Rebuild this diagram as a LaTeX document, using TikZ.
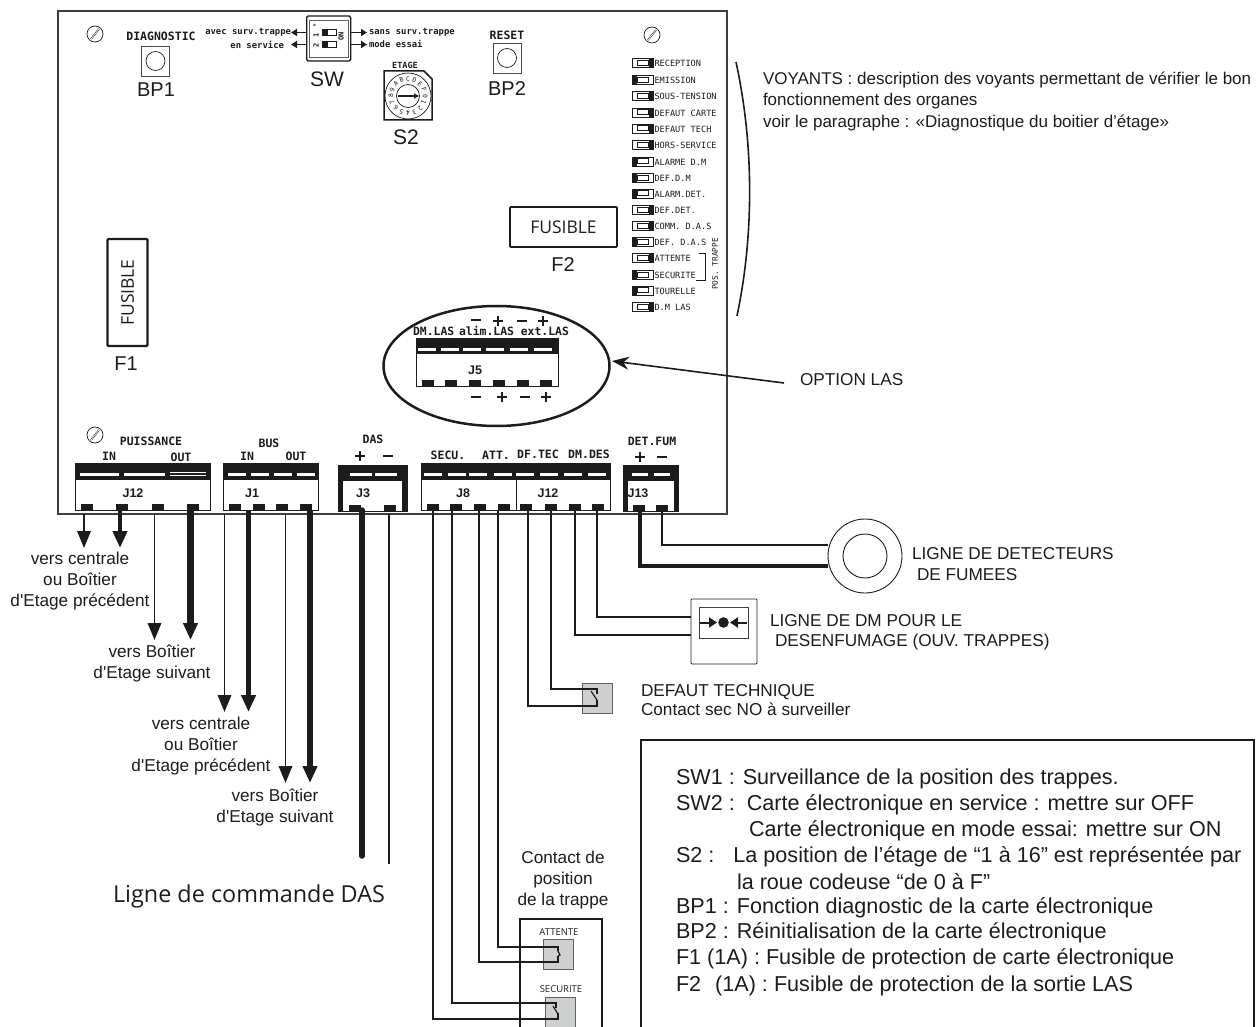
\documentclass[tikz,border=0pt]{standalone}
\usepackage{fontspec}
\setmainfont{Liberation Sans}[Ligatures=TeXOff]
\newfontfamily\dotf{DejaVu Sans Mono}
\newfontfamily\opf{Open Sans}
\usetikzlibrary{arrows.meta,calc}
\definecolor{ink}{HTML}{1C1C1E}
\definecolor{contact}{HTML}{CDD0CF}
\tikzset{
 every node/.style={inner sep=0pt,outer sep=0pt,text=ink},
 thin wire/.style={draw=ink,line width=1.8pt},
 thick wire/.style={draw=ink,line width=5.5pt},
 arrowthin/.style={thin wire,-{Triangle[length=17pt,width=13.5pt]}},
 arrowthick/.style={thick wire,-{Triangle[length=17pt,width=14pt]}},
 dm/.style={font=\dotf\fontsize{11.5}{12}\selectfont\bfseries},
 dms/.style={font=\dotf\fontsize{8.6}{10}\selectfont,anchor=west},
 ar/.style={font=\fontsize{17.2}{21}\selectfont,anchor=west},
 ar2/.style={font=\fontsize{17.2}{21}\selectfont,align=center},
 big/.style={font=\fontsize{20}{23}\selectfont},
 bx/.style={font=\fontsize{21.6}{25}\selectfont,anchor=west},
 jl/.style={font=\bfseries\fontsize{12.5}{14}\selectfont},
 op/.style={font=\opf\fontsize{17.5}{20}\selectfont},
 cont/.style={fill=contact,draw=ink!70,line width=.8pt},
}
\newcommand{\screw}[2]{\draw[ink,line width=.7pt] (#1,#2) circle (8);\draw[ink,line width=1.6pt] (#1-4,#2+5)--(#1+4,#2-5);\draw[white,line width=.6pt] (#1-4,#2+5)--(#1+4,#2-5);}
\newcommand{\led}[3]{%
 \draw[ink,line width=.8pt,fill=white] (632,#1-4.5) rectangle (653,#1+4.5);
 \draw[ink,line width=.7pt] (637,#1-3) rectangle (648,#1+2);
 \ifnum#2=1 \fill[ink] (632,#1-4.5) rectangle (637,#1+4.5);\else \fill[ink] (648.5,#1-4.5) rectangle (653,#1+4.5);\fi
 \node[dms] at (654.5,#1+.5) {#3};}
\newcommand{\slotw}[3]{\fill[white] (#1,#2-1.5) rectangle (#1+#3,#2+1.5);}
\newcommand{\pin}[2]{\fill[ink] (#1-6,#2-6) rectangle (#1+6,#2);}
\newcommand{\plusm}[2]{\fill[ink] (#1-5,#2-1.3) rectangle (#1+5,#2+1.3);\fill[ink] (#1-1.3,#2-5) rectangle (#1+1.3,#2+5);}
\newcommand{\minusm}[2]{\fill[ink] (#1-5,#2-1.3) rectangle (#1+5,#2+1.3);}
\begin{document}
\begin{tikzpicture}[x=1pt,y=-1pt]
\useasboundingbox (0,0) rectangle (1259,1027);
% board
\draw[ink!85,line width=1.3pt] (58,11) -- (727,11) -- (727,514) -- (58,514) -- cycle;
% screws
\screw{95}{34}\screw{652}{35}\screw{95}{435}
% BP1
\node[dm] (diag) at (161,36) {DIAGNOSTIC};
\draw[ink!80,line width=.8pt] (141.7,46.5) rectangle (169.3,76);
\node[circle,draw=ink,line width=.7pt,minimum size=19pt] (bp1c) at (155.5,61) {};
\node[big] (bp1) at (156,90) {BP1};
% SW
\draw[ink,line width=1.4pt,rounded corners=1.5pt] (306.7,16) rectangle (350.7,61);
\draw[ink!70,line width=.6pt] (309.5,20) rectangle (348,57);
\foreach \yy in {32.5,44}{
 \draw[ink,line width=.8pt,fill=white] (322,\yy-3) rectangle (336,\yy+3);
 \fill[ink] (322,\yy-3) rectangle (327.5,\yy+3);}
\node[font=\dotf\fontsize{7}{7}\selectfont\bfseries,rotate=90] at (316,35) {1};
\node[font=\dotf\fontsize{7}{7}\selectfont\bfseries,rotate=90] at (316,45.5) {2};
\node[font=\dotf\fontsize{7}{7}\selectfont\bfseries,rotate=90] at (316,25) {°};
\node[font=\dotf\fontsize{7}{7}\selectfont\bfseries,rotate=90] at (341,36.5) {ON};
\coordinate (swl1) at (306.7,32.5);\coordinate (swl2) at (306.7,44.5);
\coordinate (swr1) at (350.7,32.5);\coordinate (swr2) at (350.7,44.5);
\coordinate (tl1) at (291,32.5);\coordinate (tl2) at (291,44.5);
\coordinate (tr1) at (367,32.5);\coordinate (tr2) at (367,44.5);
\draw[ink,line width=1.8pt,-{Triangle[length=6pt,width=7pt]}] (swl1)--(tl1);
\draw[ink,line width=1.8pt,-{Triangle[length=6pt,width=7pt]}] (swl2)--(tl2);
\draw[ink,line width=1.8pt,-{Triangle[length=6pt,width=7pt]}] (swr1)--(tr1);
\draw[ink,line width=1.8pt,-{Triangle[length=6pt,width=7pt]}] (swr2)--(tr2);
\node[font=\dotf\fontsize{8.9}{10}\selectfont\bfseries,anchor=east] (a1) at (291,32.5) {avec surv.trappe};
\node[font=\dotf\fontsize{8.9}{10}\selectfont\bfseries,anchor=east] (a2) at (284,44.5) {en service};
\node[font=\dotf\fontsize{8.9}{10}\selectfont\bfseries,anchor=west] (a3) at (369,32.5) {sans surv.trappe};
\node[font=\dotf\fontsize{8.9}{10}\selectfont\bfseries,anchor=west] (a4) at (369,43.5) {mode essai};
\node[big,font=\fontsize{21}{23}\selectfont] (sw) at (327,79) {SW};
% S2
\node[font=\dotf\fontsize{8.5}{10}\selectfont\bfseries] (etage) at (405,65.5) {ETAGE};
\draw[ink,line width=1.5pt,fill=white] (384,71)--(424,71)--(432,79)--(432,120)--(384,120)--cycle;
\draw[ink,line width=.7pt,fill=white] (408,96) circle (23);
\draw[ink,line width=.7pt] (408,96) circle (11.5);
\foreach \c [count=\i from 0] in {0,1,2,3,4,5,6,7,8,9,A,B,C,D,E,F}{
 \pgfmathsetmacro{\ang}{-\i*22.5}
 \pgfmathsetmacro{\xp}{408+17.2*cos(\ang)}
 \pgfmathsetmacro{\yp}{96-17.2*sin(\ang)}
 \pgfmathsetmacro{\rt}{\ang-90}
 \node[font=\dotf\fontsize{6.3}{7}\selectfont,rotate=\rt] at (\xp,\yp) {\c};
}
\draw[ink,line width=1.3pt,-{Triangle[length=5pt,width=5pt]}] (398,96)--(419,96);
\node[big,font=\fontsize{21}{23}\selectfont] (s2) at (406,137) {S2};
% BP2
\node[dm] (reset) at (507,35) {RESET};
\draw[ink!80,line width=.8pt] (493,43) rectangle (521,73);
\node[circle,draw=ink,line width=.7pt,minimum size=19pt] (bp2c) at (507,58) {};
\node[big] (bp2) at (507,89) {BP2};
% LEDs
\led{63}{0}{RECEPTION}\led{80}{1}{EMISSION}\led{96}{0}{SOUS-TENSION}\led{112.5}{0}{DEFAUT CARTE}
\led{128.5}{0}{DEFAUT TECH}\led{145}{0}{HORS-SERVICE}\led{161.5}{1}{ALARME D.M}\led{178}{1}{DEF.D.M}
\led{193.5}{1}{ALARM.DET.}\led{210}{0}{DEF.DET.}\led{226}{0}{COMM. D.A.S}\led{242}{1}{DEF. D.A.S}
\led{258}{0}{ATTENTE}\led{275}{1}{SECURITE}\led{290.5}{1}{TOURELLE}\led{307}{0}{D.M LAS}
\draw[ink,line width=1pt] (699,254)--(705,254)--(705,280.5)--(696,280.5);
\node[font=\dotf\fontsize{7.8}{9}\selectfont,rotate=90] (postr) at (715,264) {POS. TRAPPE};
% paren
\draw[ink,line width=1.6pt] (736,62) .. controls (754,145) and (754,235) .. (737,316);
\node[ar,font=\fontsize{17}{21}\selectfont] (v1) at (763,80) {VOYANTS : description des voyants permettant de vérifier le bon};
\node[ar,font=\fontsize{17}{21}\selectfont] (v2) at (763,101.5) {fonctionnement des organes};
\node[ar,font=\fontsize{17}{21}\selectfont] (v3) at (763,123) {voir le paragraphe : «Diagnostique du boitier d’étage»};
% fuses
\node[draw=ink,line width=1.8pt,rounded corners=1pt,minimum width=107pt,minimum height=40pt,op] (f2box) at (563.5,227) {FUSIBLE};
\node[big] (f2) at (563,265) {F2};
\node[draw=ink,line width=2.2pt,rounded corners=1pt,minimum width=107pt,minimum height=40pt,op,rotate=90] (f1box) at (127.5,292.5) {FUSIBLE};
\node[big] (f1) at (126,364) {F1};
% ellipse
\draw[ink,line width=2.5pt] (496.5,366) ellipse (113 and 60);
\node[font=\dotf\fontsize{11.4}{12}\selectfont\bfseries] (ltx) at (491,331) {DM.LAS\hspace{-2pt} alim.LAS ext.LAS};
\minusm{476}{320}\plusm{498}{321}\minusm{522}{321}\plusm{543}{321}
\minusm{476}{397}\plusm{502}{397}\minusm{525}{397}\plusm{546}{397}
\draw[ink,line width=1pt] (416,338) rectangle (558,386);
\fill[ink] (416,338) rectangle (558,354);
\foreach \xx in {427,450,472,495,519,543}{\slotw{\xx-9}{349}{18}}
\foreach \xx in {428,451,475,499,523,546}{\pin{\xx}{386}}
\node[jl] (j5) at (475,370) {J5};
\node[ar] (optlas) at (800,380) {OPTION LAS};
\coordinate (optend) at (784,383);
\coordinate (opttip) at (612,361);
\draw[ink,line width=1.6pt,-{Stealth[length=17pt,width=13pt]}] (optend)--(opttip);
% --- connectors ---
\draw[ink,line width=1pt] (75,463) rectangle (210,510);
\fill[ink] (75,463) rectangle (210,480);
\slotw{80}{474}{39}\slotw{124}{474}{41}\fill[white] (170,472) rectangle (206,473.2);\fill[white] (170,475) rectangle (206,476.2);
\foreach \xx in {87,122,158,193}{\pin{\xx}{510}}
\node[jl] (j12a) at (133,493) {J12};
\node[dm] (puis) at (151,441) {PUISSANCE};
\node[dm] (in1) at (109,456) {IN};
\node[dm] (out1) at (181,457) {OUT};
\draw[ink,line width=1pt] (223,463.5) rectangle (318,510);
\fill[ink] (223,463.5) rectangle (318,480);
\foreach \xx in {237,260,283,306}{\slotw{\xx-9}{474}{18}}
\foreach \xx in {235,259,282,306}{\pin{\xx}{510}}
\node[jl] (j1) at (252,493) {J1};
\node[dm] (bus) at (269,443) {BUS};
\node[dm] (in2) at (247,456) {IN};
\node[dm] (out2) at (296,456) {OUT};
\draw[ink,line width=1pt] (338,465) rectangle (407,511);
\fill[ink] (338,465) rectangle (407,481);
\fill[ink] (338,465) rectangle (343,511);\fill[ink] (402,465) rectangle (407,511);
\foreach \xx in {361,386}{\slotw{\xx-11}{474.5}{22}}
\foreach \xx in {355,390}{\pin{\xx}{511}}
\node[jl] (j3) at (363,493) {J3};
\node[dm] (das) at (373,439) {DAS};
\plusm{360}{456}\minusm{388}{456}
\draw[ink,line width=1pt] (421,463) rectangle (610,510);
\draw[ink,line width=.7pt] (516,463)--(516,510);
\fill[ink] (421,463) rectangle (610,480);
\foreach \xx in {433,457,478,503,525,549,573,597}{\slotw{\xx-9}{474}{18}}
\foreach \xx in {433,456,480,504,526,551,575,598}{\pin{\xx}{510}}
\node[jl] (j8) at (463,493) {J8};
\node[jl] (j12b) at (548,493) {J12};
\node[dm] (secu) at (448,455) {SECU.};
\node[dm] (att) at (496,455) {ATT.};
\node[dm] (dftec) at (538,454) {DF.TEC};
\node[dm] (dmdes) at (589,454) {DM.DES};
\draw[ink,line width=1pt] (623,465) rectangle (678,511);
\fill[ink] (623,465) rectangle (678,481);
\fill[ink] (623,465) rectangle (628,511);\fill[ink] (674,465) rectangle (678,511);
\foreach \xx in {640,662}{\slotw{\xx-8}{474.5}{16}}
\foreach \xx in {639,662}{\pin{\xx}{511}}
\node[jl] (j13) at (638,493) {J13};
\node[dm] (detf) at (652,441) {DET.FUM};
\plusm{640}{457}\minusm{662}{457}
% arrows
\coordinate (p1) at (84,514);\coordinate (p2) at (120,510);\coordinate (p3) at (154.5,514);\coordinate (p4) at (190.5,510);
\coordinate (t1) at (84,548);\coordinate (t2) at (120,548);\coordinate (t3) at (154.5,640);\coordinate (t4) at (190.5,640);
\draw[arrowthin] (p1)--(t1);\draw[arrowthick,line width=4.5pt] (p2)--(t2);\draw[arrowthin] (p3)--(t3);\draw[arrowthick,line width=6.5pt] (p4)--(t4);
\coordinate (p5) at (224.5,514);\coordinate (p6) at (248.5,510);\coordinate (p7) at (285.5,514);\coordinate (p8) at (310,510);
\coordinate (t5) at (224.5,712);\coordinate (t6) at (248.5,712);\coordinate (t7) at (285.5,783);\coordinate (t8) at (310,783);
\draw[arrowthin] (p5)--(t5);\draw[arrowthick] (p6)--(t6);\draw[arrowthin] (p7)--(t7);\draw[arrowthick] (p8)--(t8);
\coordinate (p9) at (362,510);\coordinate (t9) at (362,856);
\coordinate (p10) at (389,514);\coordinate (t10) at (389,864);
\draw[thick wire,line cap=round] (p9)--(t9);\draw[thin wire] (p10)--(t10);
% arrow labels
\node[ar2] (lab1) at (80,581) {vers centrale\\ou Boîtier\\d'Etage précédent};
\node[ar2] (lab2) at (152,663.5) {vers Boîtier\\d'Etage suivant};
\node[ar2] (lab3) at (201,746) {vers centrale\\ou Boîtier\\d'Etage précédent};
\node[ar2] (lab4) at (275,807.5) {vers Boîtier\\d'Etage suivant};
\node[font=\opf\fontsize{23.4}{26}\selectfont] (ldas) at (249,896) {Ligne de commande DAS};
% detector
\node[circle,draw=ink,line width=.9pt,minimum size=74pt] (det) at (865,556) {};
\node[circle,draw=ink,line width=.9pt,minimum size=44pt] (deti) at (865,556) {};
\coordinate (d1) at (640,510);\coordinate (d2) at (662,511);
\draw[ink,line width=3.8pt] (d1)|-(det.west |- 0,566);
\draw[ink,line width=1.6pt] (d2)|-(det.west |- 0,545);
\node[ar] (ld1) at (912,554) {LIGNE DE DETECTEURS};
\node[ar] (ld2) at (917,575) {DE FUMEES};
% manual call point
\node[draw=ink,line width=.9pt,rounded corners=1pt,minimum width=66pt,minimum height=65pt] (dmb) at (724,631.5) {};
\draw[ink!85,line width=.9pt] (699,607) rectangle (748,638);
\coordinate (dm1) at (597,510);\coordinate (dm2) at (575,510);
\draw[thin wire] (dm1)|-(dmb.west |- 0,617);
\draw[thin wire] (dm2)|-(dmb.west |- 0,635);
\fill[ink] (723.5,622.5) circle (5.3);
\draw[ink,line width=2pt,-{Triangle[length=8pt,width=10pt]}] (700,622.5)--(717,622.5);
\draw[ink,line width=2pt,-{Triangle[length=8pt,width=10pt]}] (747,622.5)--(730,622.5);
\node[ar] (lm1) at (770,621) {LIGNE DE DM POUR LE};
\node[ar] (lm2) at (775,642) {DESENFUMAGE (OUV. TRAPPES)};
% defaut tech
\node[cont,minimum width=30pt,minimum height=30pt] (dt) at (597,698) {};
\coordinate (w1) at (551,510);\coordinate (w2) at (528,510);
\draw[thin wire] (w1)|-(597,689)--(597,694);
\draw[thin wire] (w2)|-(597,706)--(597,700);
\draw[ink,line width=1.2pt] (591,691)--(597,700);
\node[ar] (dtt1) at (641,692) {DEFAUT TECHNIQUE};
\node[ar] (dtt2) at (641,709) {Contact sec NO à surveiller};
% trappe
\node[ar2] (ctt) at (563,880) {Contact de\\position\\de la trappe};
\draw[ink,line width=1.5pt] (520,1040)--(520,919)--(602,919)--(602,1040);
\node[font=\opf\fontsize{9.5}{11}\selectfont] (att2) at (559,932) {ATTENTE};
\node[font=\opf\fontsize{9.5}{11}\selectfont] (sec2) at (561,989) {SECURITE};
\node[cont,minimum width=30pt,minimum height=30pt] (catt) at (558,954) {};
\node[cont,minimum width=30pt,minimum height=34pt] (csec) at (560,1014) {};
\coordinate (s1) at (498,510);\coordinate (s2c) at (479,510);\coordinate (s3) at (452,510);\coordinate (s4) at (433,510);
\draw[thin wire] (s1)|-(558,947)--(558,951);
\draw[thin wire] (s2c)|-(558,962)--(558,956);
\draw[ink,line width=1.2pt] (558,951)--(560,955)--(558,956);
\draw[thin wire] (s3)|-(556,1003)--(556,1008);
\draw[thin wire] (s4)|-(558,1019)--(558,1013);
\draw[ink,line width=1.2pt] (553,1006)--(558,1014);
% legend
\draw[ink,line width=2pt] (641,1040)--(641,740)--(1254,740)--(1254,1040);
\node[bx] (b1) at (676,779) {SW1 : Surveillance de la position des trappes.};
\node[bx] (b2) at (676,805) {SW2 :\hspace{12pt}Carte électronique en service : mettre sur OFF};
\node[bx] (b3) at (749,831) {Carte électronique en mode essai: mettre sur ON};
\node[bx] (b4) at (676,857) {S2 :\hspace{19pt}La position de l’étage de “1 à 16” est représentée par};
\node[bx] (b5) at (737,882) {la roue codeuse “de 0 à F”};
\node[bx] (b6) at (676,908) {BP1 : Fonction diagnostic de la carte électronique};
\node[bx] (b7) at (676,933) {BP2 : Réinitialisation de la carte électronique};
\node[bx] (b8) at (676,959) {F1 (1A) : Fusible de protection de carte électronique};
\node[bx] (b9) at (676,986) {F2\hspace{14pt}(1A) : Fusible de protection de la sortie LAS};
\end{tikzpicture}
\end{document}
